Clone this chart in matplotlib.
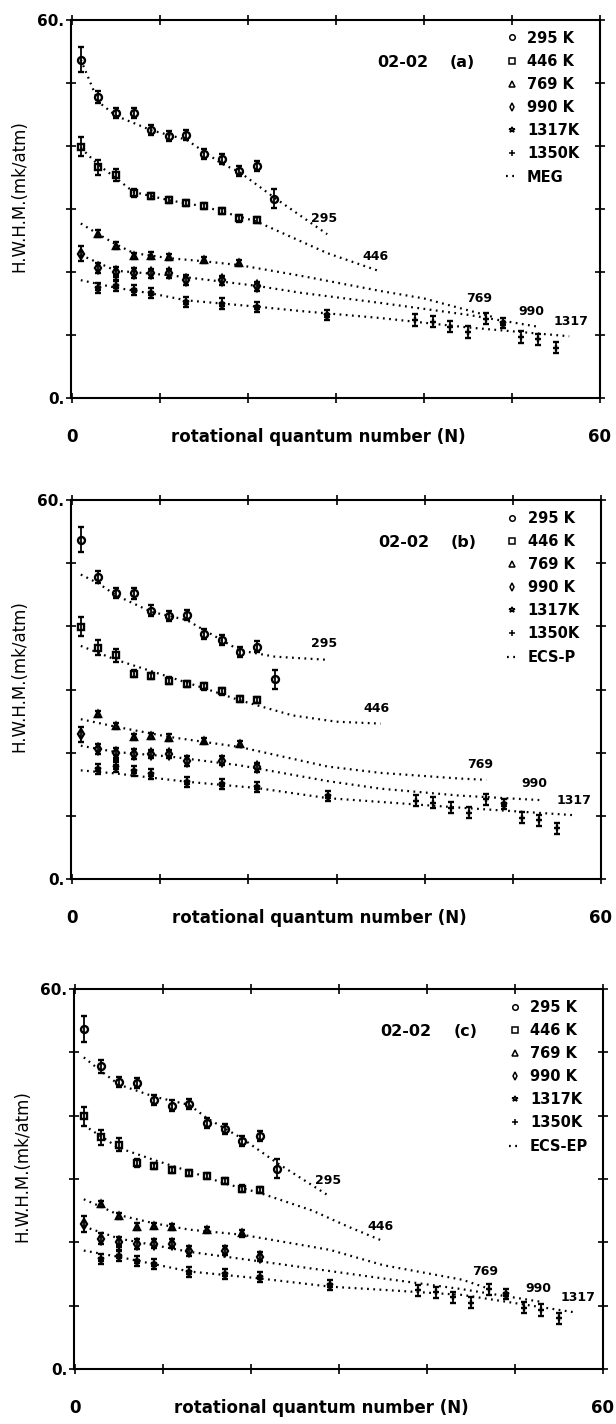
import matplotlib.pyplot as plt
from matplotlib.lines import Line2D

plt.rcParams['font.family'] = ['DejaVu Sans']
plt.rcParams['font.weight'] = 'bold'

# measured half widths (same data in all three panels)
temps = ['295 K', '446 K', '769 K', '990 K', '1317K', '1350K']
markers = ['o', 's', '^', 'd', '*', '+']

n_295 = [1, 3, 5, 7, 9, 11, 13, 15, 17, 19, 21, 23]
w_295 = [53.7, 47.8, 45.3, 45.2, 42.5, 41.6, 41.8, 38.8, 37.9, 36.0, 36.8, 31.6]
e_295 = [2.0, 1.0, 0.8, 0.8, 0.8, 0.8, 0.8, 0.8, 0.8, 0.8, 0.8, 1.5]

n_446 = [1, 3, 5, 7, 9, 11, 13, 15, 17, 19, 21]
w_446 = [39.9, 36.6, 35.4, 32.5, 32.1, 31.4, 30.9, 30.5, 29.7, 28.5, 28.3]
e_446 = [1.5, 1.2, 1.0, 0.6, 0.5, 0.5, 0.5, 0.5, 0.5, 0.5, 0.5]

n_769 = [3, 5, 7, 9, 11, 15, 19]
w_769 = [26.1, 24.2, 22.5, 22.6, 22.4, 21.9, 21.4]
e_769 = [0.5, 0.5, 0.5, 0.5, 0.5, 0.5, 0.5]

n_990 = [1, 3, 5, 7, 9, 11, 13, 17, 21]
w_990 = [22.9, 20.6, 20.0, 19.8, 19.8, 19.8, 18.7, 18.7, 17.7]
e_990 = [1.2, 0.8, 0.8, 0.8, 0.7, 0.7, 0.8, 0.7, 0.7]

n_1317 = [3, 5, 7, 9, 13, 17, 21, 29, 49]
w_1317 = [17.4, 17.8, 17.1, 16.6, 15.3, 15.0, 14.5, 13.2, 11.9]
e_1317 = [0.8, 0.8, 0.8, 0.8, 0.8, 0.8, 0.8, 0.8, 0.8]

n_1350 = [5, 39, 41, 43, 45, 47, 51, 53, 55]
w_1350 = [18.8, 12.4, 12.1, 11.3, 10.5, 12.6, 9.7, 9.3, 8.0]
e_1350 = [0.8, 0.9, 0.9, 0.9, 0.9, 0.9, 0.9, 0.9, 0.9]

# (a) MEG model curves
meg_295_n = [1, 3, 5, 9, 13, 17, 19, 23, 29]
meg_295 = [53.7, 47.0, 44.8, 42.5, 41.0, 37.2, 35.9, 31.8, 26.0]
meg_446_n = [1, 3, 5, 7, 11, 15, 19, 21, 25, 29, 35]
meg_446 = [39.7, 37.0, 34.9, 32.7, 31.4, 30.4, 28.8, 28.0, 25.5, 23.0, 20.1]
meg_769_n = [1, 3, 5, 7, 11, 15, 19, 26, 35, 40, 48]
meg_769 = [27.7, 26.0, 24.4, 23.0, 22.2, 21.7, 21.1, 19.4, 17.0, 15.8, 12.8]
meg_990_n = [1, 5, 11, 21, 26, 35, 45, 53]
meg_990 = [22.7, 20.2, 19.5, 17.8, 16.7, 15.1, 13.2, 11.3]
meg_1317_n = [1, 5, 9, 13, 17, 21, 26, 35, 45, 56.5]
meg_1317 = [18.7, 17.5, 16.6, 15.5, 15.0, 14.5, 13.8, 12.7, 11.2, 9.8]

# (b) ECS-P
ecsp_295_n = [1, 3, 5, 9, 13, 17, 19, 23, 29]
ecsp_295 = [48.2, 46.8, 44.9, 42.3, 41.0, 37.8, 36.2, 35.2, 34.7]
ecsp_446_n = [1, 5, 11, 15, 19, 25, 30, 35]
ecsp_446 = [36.9, 34.7, 32.0, 30.2, 28.3, 25.9, 24.9, 24.6]
ecsp_769_n = [1, 5, 11, 19, 29, 35, 44, 47]
ecsp_769 = [25.3, 24.1, 22.5, 20.9, 17.8, 16.8, 15.9, 15.7]
ecsp_990_n = [1, 5, 11, 19, 29, 35, 44, 53]
ecsp_990 = [21.1, 20.1, 19.4, 18.0, 15.5, 14.3, 13.2, 12.5]
ecsp_1317_n = [1, 5, 13, 21, 29, 35, 45, 57]
ecsp_1317 = [17.2, 16.7, 15.4, 14.4, 12.8, 12.2, 11.2, 10.1]

# (c) ECS-EP
ecsep_295_n = [1, 3, 5, 9, 13, 15, 19, 23, 29]
ecsep_295 = [49.2, 47.0, 44.9, 43.0, 41.7, 39.6, 36.4, 32.5, 27.2]
ecsep_446_n = [1, 3, 5, 9, 13, 17, 21, 27, 31, 35]
ecsep_446 = [38.5, 36.7, 34.9, 33.0, 31.2, 29.3, 27.8, 25.0, 22.5, 20.2]
ecsep_769_n = [1, 3, 5, 9, 13, 19, 29, 35, 44, 47]
ecsep_769 = [26.8, 25.6, 24.3, 23.0, 22.0, 21.2, 18.8, 16.4, 14.1, 12.7]
ecsep_990_n = [1, 5, 13, 21, 35, 44, 53]
ecsep_990 = [22.5, 20.6, 18.5, 17.0, 14.3, 12.6, 10.6]
ecsep_1317_n = [1, 5, 13, 21, 29, 35, 44, 57]
ecsep_1317 = [18.7, 17.7, 15.4, 14.3, 13.0, 12.5, 11.7, 8.9]

curve_names = ['295', '446', '769', '990', '1317']
models = ['MEG', 'ECS-P', 'ECS-EP']
tags = ['(a)', '(b)', '(c)']

# curve label positions
lab_a = [(28.6, 28.5), (34.5, 22.4), (46.3, 15.8), (52.2, 13.7), (56.7, 12.1)]
lab_b = [(28.6, 37.3), (34.5, 27.0), (46.3, 18.2), (52.4, 15.1), (56.9, 12.5)]
lab_c = [(28.8, 29.7), (34.7, 22.5), (46.6, 15.4), (52.6, 12.7), (57.2, 11.3)]

data = [(n_295, w_295, e_295), (n_446, w_446, e_446), (n_769, w_769, e_769),
        (n_990, w_990, e_990), (n_1317, w_1317, e_1317), (n_1350, w_1350, e_1350)]
curves = [
    [(meg_295_n, meg_295), (meg_446_n, meg_446), (meg_769_n, meg_769),
     (meg_990_n, meg_990), (meg_1317_n, meg_1317)],
    [(ecsp_295_n, ecsp_295), (ecsp_446_n, ecsp_446), (ecsp_769_n, ecsp_769),
     (ecsp_990_n, ecsp_990), (ecsp_1317_n, ecsp_1317)],
    [(ecsep_295_n, ecsep_295), (ecsep_446_n, ecsep_446), (ecsep_769_n, ecsep_769),
     (ecsep_990_n, ecsep_990), (ecsep_1317_n, ecsep_1317)],
]
labels = [lab_a, lab_b, lab_c]

# panel frames in pixels: x of N=0, x of N=60, top, bottom
frames = [(72, 600, 20, 398), (72, 601, 500, 879), (75, 603, 989, 1369)]

W, H = 616, 1424
dots = (0, (0.8, 2.0))

fig = plt.figure(figsize=(W / 100, H / 100), dpi=100)

for k in range(3):
    x0, x60, top, bot = frames[k]
    ax = fig.add_axes([(x0 - 1.5) / W, 1 - bot / H, (x60 - x0 + 1.5) / W, (bot - top) / H])
    ax.set_xlim(-1.5 * 60 / (x60 - x0), 60)
    ax.set_ylim(0, 60)

    for (n, w, e), m in zip(data, markers):
        ax.errorbar(n, w, yerr=e, fmt=m, color='k', mfc='none', ms=5, mew=1.7,
                    elinewidth=1.3, capsize=2.5, capthick=1.3)

    for (n, w), name, (lx, ly) in zip(curves[k], curve_names, labels[k]):
        ax.plot(n, w, color='k', lw=1.6, ls=dots)
        ax.text(lx, ly, name, ha='center', va='center', fontsize=9)

    ax.text(37.6, 53.3, '02-02', ha='center', va='center', fontsize=11.5)
    ax.text(44.4, 53.3, tags[k], ha='center', va='center', fontsize=11.5)

    handles = [Line2D([], [], marker=m, ls='none', color='k', mfc='none', ms=4, mew=1.1)
               for m in markers]
    handles.append(Line2D([], [], ls=dots, lw=1.6, color='k'))
    ax.legend(handles, temps + [models[k]], loc='upper left', bbox_to_anchor=(0.822, 0.972),
              frameon=False, fontsize=10.5, handlelength=0.8, handletextpad=0.65,
              labelspacing=0.56, borderpad=0, borderaxespad=0)

    ax.set_xticks(range(0, 61, 10))
    ax.set_xticklabels([])
    ax.set_yticks(range(0, 61, 10))
    ax.set_yticklabels(['0.', '', '', '', '', '', '60.'], fontsize=11)
    ax.tick_params(direction='inout', length=7, width=1.2, top=True, right=True, pad=1)
    for s in ax.spines.values():
        s.set_linewidth(1.5)

    xt = ax.get_xaxis_transform()
    dy = -39 / (bot - top)
    ax.text(0, dy, '0', transform=xt, ha='center', va='center', fontsize=12)
    ax.text(60, dy, '60', transform=xt, ha='center', va='center', fontsize=12)
    ax.text(28, dy, 'rotational quantum number (N)', transform=xt, ha='center',
            va='center', fontsize=12)

    ax.set_ylabel('H.W.H.M.(mk/atm)', fontsize=12)
    ax.yaxis.set_label_coords(-0.08, 0.535)

fig.savefig('out.png', dpi=100)
